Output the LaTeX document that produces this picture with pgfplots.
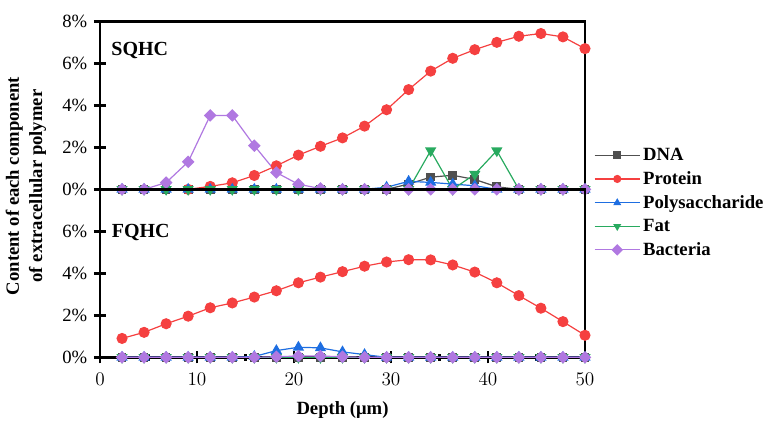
\documentclass[border=0pt]{standalone}
\usepackage{pgfplots}
\pgfplotsset{compat=1.18}
\usepackage{fontspec}
\setmainfont{Liberation Serif}

\definecolor{cdna}{RGB}{80,80,80}
\definecolor{cprot}{RGB}{245,64,64}
\definecolor{cpoly}{RGB}{30,110,225}
\definecolor{cfat}{RGB}{40,170,95}
\definecolor{cbac}{RGB}{176,120,225}

\pgfplotsset{
  panel/.style={
    width=363.75pt, height=126pt, scale only axis,
    xmin=0, xmax=50, ymin=0, ymax=8,
    axis line style={line width=2.2pt},
    tick style={line width=2.2pt, black},
    tick align=center,
    major tick length=9pt,
    minor tick length=5pt,
    ytick pos=left,
    yticklabel={\pgfmathprintnumber[assume math mode=true]{\tick}\%},
    yticklabel style={xshift=-1.5pt},
    tick label style={font=\fontsize{14}{16}\selectfont},
    clip=false,
  },
  sDNA/.style={color=cdna, line width=0.9pt, mark=square*, mark size=2.8pt},
  sProt/.style={color=cprot, line width=0.9pt, mark=*, mark size=3.7pt},
  sPoly/.style={color=cpoly, line width=0.9pt, mark=triangle*, mark size=4pt},
  sFat/.style={color=cfat, line width=0.9pt, mark=triangle*, mark size=4pt, mark options={rotate=180}},
  sBac/.style={color=cbac, line width=0.9pt, mark=square*, mark size=2.9pt, mark options={rotate=45}},
}

\begin{document}
\begin{tikzpicture}
\path[use as bounding box] (-75pt,-56pt) rectangle (506.25pt,268pt);

% upper panel
\begin{axis}[panel, at={(0,126pt)}, ytick={0,2,4,6,8}, xtick=\empty]
  \addplot[sDNA] coordinates {(2.273,0) (4.545,0) (6.818,0) (9.091,0) (11.364,0) (13.636,0) (15.909,0) (18.182,0) (20.455,0) (22.727,0) (25,0) (27.273,0) (29.545,0) (31.818,0.25) (34.091,0.58) (36.364,0.67) (38.636,0.47) (40.909,0.12) (43.182,0) (45.455,0) (47.727,0) (50,0)};
  \addplot[sProt] coordinates {(9.091,0) (11.364,0.14) (13.636,0.31) (15.909,0.66) (18.182,1.12) (20.455,1.63) (22.727,2.05) (25,2.45) (27.273,3.01) (29.545,3.79) (31.818,4.75) (34.091,5.63) (36.364,6.24) (38.636,6.65) (40.909,7.0) (43.182,7.29) (45.455,7.42) (47.727,7.26) (50,6.7)};
  \addplot[sPoly] coordinates {(2.273,0) (4.545,0) (6.818,0) (9.091,0) (11.364,0) (13.636,0) (15.909,0) (18.182,0) (20.455,0) (22.727,0) (25,0) (27.273,0) (29.545,0.1) (31.818,0.38) (34.091,0.33) (36.364,0.25) (38.636,0.17) (40.909,0) (43.182,0) (45.455,0) (47.727,0) (50,0)};
  \addplot[sFat] coordinates {(2.273,0) (4.545,0) (6.818,0) (9.091,0) (11.364,0) (13.636,0) (15.909,0) (18.182,0) (20.455,0) (22.727,0) (25,0) (27.273,0) (29.545,0) (31.818,0) (34.091,1.84) (36.364,0) (38.636,0.72) (40.909,1.84) (43.182,0) (45.455,0) (47.727,0) (50,0)};
  \addplot[sBac] coordinates {(2.273,0) (4.545,0) (6.818,0.32) (9.091,1.31) (11.364,3.52) (13.636,3.52) (15.909,2.08) (18.182,0.8) (20.455,0.24) (22.727,0.04) (25,0) (27.273,0) (29.545,0) (31.818,0) (34.091,0) (36.364,0) (38.636,0) (40.909,0) (43.182,0) (45.455,0) (47.727,0) (50,0)};
  \node[font=\bfseries\fontsize{15}{18}\selectfont] at (axis cs:4.1,6.62) {SQHC};
\end{axis}

% lower panel
\begin{axis}[panel, ytick={0,2,4,6},
  xtick={0,10,...,50}, minor xtick={5,15,...,45}, xtick pos=bottom,
  xticklabel style={yshift=-4pt},
  xlabel={Depth (μm)},
  xlabel style={at={(axis description cs:0.5,-0.3135)}, anchor=center, font=\bfseries\fontsize{14}{17}\selectfont},
  legend style={at={(1.018,0.92)}, anchor=west, draw=none, fill=none,
    font=\bfseries\fontsize{14}{16}\selectfont, row sep=2.7pt, inner sep=0pt},
  legend cell align=left,
  legend image code/.code={\draw[mark repeat=2, mark phase=2, #1, mark size=2.6pt] plot coordinates {(0pt,0pt) (17pt,0pt) (34pt,0pt)};},
]
  \addplot[sDNA] coordinates {(2.273,0) (4.545,0) (6.818,0) (9.091,0) (11.364,0) (13.636,0) (15.909,0) (18.182,0) (20.455,0) (22.727,0) (25,0) (27.273,0) (29.545,0) (31.818,0) (34.091,0) (36.364,0) (38.636,0) (40.909,0) (43.182,0) (45.455,0) (47.727,0) (50,0)};
  \addlegendentry{DNA}
  \addplot[sProt] coordinates {(2.273,0.9) (4.545,1.19) (6.818,1.6) (9.091,1.96) (11.364,2.36) (13.636,2.59) (15.909,2.87) (18.182,3.17) (20.455,3.55) (22.727,3.82) (25,4.08) (27.273,4.34) (29.545,4.54) (31.818,4.65) (34.091,4.64) (36.364,4.4) (38.636,4.06) (40.909,3.55) (43.182,2.94) (45.455,2.34) (47.727,1.7) (50,1.05)};
  \addlegendentry{Protein}
  \addplot[sPoly] coordinates {(2.273,0) (4.545,0) (6.818,0) (9.091,0) (11.364,0) (13.636,0) (15.909,0.04) (18.182,0.32) (20.455,0.48) (22.727,0.45) (25,0.26) (27.273,0.13) (29.545,0) (31.818,0) (34.091,0) (36.364,0) (38.636,0) (40.909,0) (43.182,0) (45.455,0) (47.727,0) (50,0)};
  \addlegendentry{Polysaccharide}
  \addplot[sFat] coordinates {(2.273,0) (4.545,0) (6.818,0) (9.091,0) (11.364,0) (13.636,0) (15.909,0) (18.182,0) (20.455,0) (22.727,0) (25,0) (27.273,0) (29.545,0) (31.818,0) (34.091,0) (36.364,0) (38.636,0) (40.909,0) (43.182,0) (45.455,0) (47.727,0) (50,0)};
  \addlegendentry{Fat}
  \addplot[sBac] coordinates {(2.273,0) (4.545,0) (6.818,0) (9.091,0) (11.364,0) (13.636,0) (15.909,0) (18.182,0.03) (20.455,0.06) (22.727,0.06) (25,0.03) (27.273,0) (29.545,0) (31.818,0) (34.091,0) (36.364,0) (38.636,0) (40.909,0) (43.182,0) (45.455,0) (47.727,0) (50,0)};
  \addlegendentry{Bacteria}
  \node[font=\bfseries\fontsize{15}{18}\selectfont] at (axis cs:4.2,5.95) {FQHC};
\end{axis}

\node[rotate=90, align=center, font=\bfseries\fontsize{14}{17.5}\selectfont] at (-55.5pt,128.5pt) {Content of each component\\of extracellular polymer};
\end{tikzpicture}
\end{document}
